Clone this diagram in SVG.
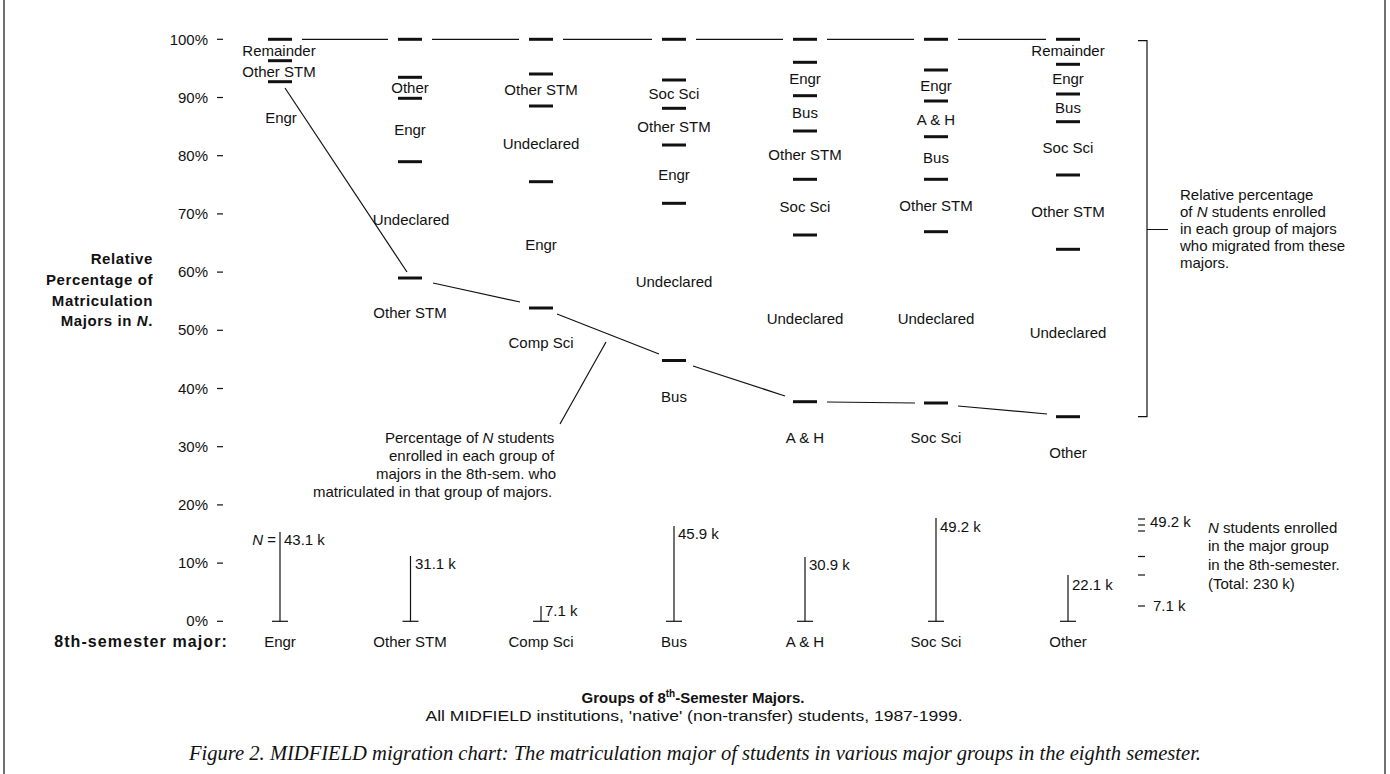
<svg xmlns="http://www.w3.org/2000/svg" width="1390" height="774" viewBox="0 0 1390 774">
<style>
text{font-family:"Liberation Sans",Arial,Helvetica,sans-serif;font-size:15px;fill:#111}
.lab{text-anchor:middle}
.tick{text-anchor:end}
.bar{stroke:#111;stroke-width:3}
.ln{stroke:#111;stroke-width:1.2;fill:none}
.bold{font-weight:bold}
.it{font-style:italic}
.note{font-size:14.5px}
.small{font-size:13px}
.cap{font-family:"Liberation Serif","Times New Roman",serif;font-style:italic;font-size:20px}
</style>
<rect x="0" y="0" width="1390" height="774" fill="#fff"/>
<g id="frame" class="ln" stroke-width="1.5">
<line x1="4" y1="0" x2="4" y2="774"/>
<line x1="1385" y1="0" x2="1385" y2="774"/>
</g>
<g id="y-axis">
<g class="ln"><line x1="217" y1="39.3" x2="223" y2="39.3"/><line x1="217" y1="97.5" x2="223" y2="97.5"/><line x1="217" y1="155.7" x2="223" y2="155.7"/><line x1="217" y1="213.9" x2="223" y2="213.9"/><line x1="217" y1="272.1" x2="223" y2="272.1"/><line x1="217" y1="330.3" x2="223" y2="330.3"/><line x1="217" y1="388.5" x2="223" y2="388.5"/><line x1="217" y1="446.7" x2="223" y2="446.7"/><line x1="217" y1="504.9" x2="223" y2="504.9"/><line x1="217" y1="563.1" x2="223" y2="563.1"/><line x1="217" y1="621.3" x2="223" y2="621.3"/></g>
<text class="tick" x="208" y="44.5">100%</text>
<text class="tick" x="208" y="102.5">90%</text>
<text class="tick" x="208" y="160.7">80%</text>
<text class="tick" x="208" y="218.9">70%</text>
<text class="tick" x="208" y="277.1">60%</text>
<text class="tick" x="208" y="335.3">50%</text>
<text class="tick" x="208" y="393.5">40%</text>
<text class="tick" x="208" y="451.7">30%</text>
<text class="tick" x="208" y="509.9">20%</text>
<text class="tick" x="208" y="568.1">10%</text>
<text class="tick" x="208" y="626.3">0%</text>
<g class="bold" style="font-size:16px;letter-spacing:0.6px">
<text class="tick" x="153" y="264">Relative</text>
<text class="tick" x="153" y="285">Percentage of</text>
<text class="tick" x="153" y="306">Matriculation</text>
<text class="tick" x="153" y="326">Majors in <tspan class="it">N</tspan>.</text>
</g>
<text class="tick bold" x="228" y="647" style="font-size:16px;letter-spacing:1.1px">8th-semester major:</text>
</g>
<g id="col-engr">
<line class="bar" x1="268" y1="39.3" x2="292" y2="39.3"/><line class="bar" x1="268" y1="60.7" x2="292" y2="60.7"/><line class="bar" x1="268" y1="81.7" x2="292" y2="81.7"/>
<text class="lab" x="279" y="55.5">Remainder</text>
<text class="lab" x="279" y="76.5">Other STM</text>
<text class="lab" x="281" y="123">Engr</text>
<line class="ln" x1="280" y1="532" x2="280" y2="621.3"/><line class="ln" x1="272" y1="621.3" x2="288" y2="621.3"/>
<text x="276" y="545" class="tick"><tspan class="it">N</tspan> =</text>
<text x="284" y="545">43.1 k</text>
<text class="lab" x="280" y="647">Engr</text>
</g>
<g id="col-otherstm">
<line class="bar" x1="398" y1="39.3" x2="422" y2="39.3"/><line class="bar" x1="398" y1="77.3" x2="422" y2="77.3"/><line class="bar" x1="398" y1="98.3" x2="422" y2="98.3"/><line class="bar" x1="398" y1="161.7" x2="422" y2="161.7"/><line class="bar" x1="398" y1="278" x2="422" y2="278"/>
<text class="lab" x="410" y="93">Other</text>
<text class="lab" x="410" y="135">Engr</text>
<text class="lab" x="411" y="225">Undeclared</text>
<text class="lab" x="410" y="318">Other STM</text>
<line class="ln" x1="410.5" y1="556" x2="410.5" y2="621.3"/><line class="ln" x1="402.5" y1="621.3" x2="418.5" y2="621.3"/>
<text x="415" y="569">31.1 k</text>
<text class="lab" x="410" y="647">Other STM</text>
</g>
<g id="col-compsci">
<line class="bar" x1="529" y1="39.3" x2="553" y2="39.3"/><line class="bar" x1="529" y1="74" x2="553" y2="74"/><line class="bar" x1="529" y1="106" x2="553" y2="106"/><line class="bar" x1="529" y1="181.7" x2="553" y2="181.7"/><line class="bar" x1="529" y1="308" x2="553" y2="308"/>
<text class="lab" x="541" y="95">Other STM</text>
<text class="lab" x="541" y="149">Undeclared</text>
<text class="lab" x="541" y="250">Engr</text>
<text class="lab" x="541" y="348">Comp Sci</text>
<line class="ln" x1="541" y1="606" x2="541" y2="621.3"/><line class="ln" x1="533" y1="621.3" x2="549" y2="621.3"/>
<text x="545" y="616">7.1 k</text>
<text class="lab" x="541" y="647">Comp Sci</text>
</g>
<g id="col-bus">
<line class="bar" x1="662" y1="39.3" x2="686" y2="39.3"/><line class="bar" x1="662" y1="80" x2="686" y2="80"/><line class="bar" x1="662" y1="108.3" x2="686" y2="108.3"/><line class="bar" x1="662" y1="145" x2="686" y2="145"/><line class="bar" x1="662" y1="203.3" x2="686" y2="203.3"/><line class="bar" x1="662" y1="360.5" x2="686" y2="360.5"/>
<text class="lab" x="674" y="99">Soc Sci</text>
<text class="lab" x="674" y="132">Other STM</text>
<text class="lab" x="674" y="180">Engr</text>
<text class="lab" x="674" y="287">Undeclared</text>
<text class="lab" x="674" y="402">Bus</text>
<line class="ln" x1="674" y1="526" x2="674" y2="621.3"/><line class="ln" x1="666" y1="621.3" x2="682" y2="621.3"/>
<text x="678" y="539">45.9 k</text>
<text class="lab" x="674" y="647">Bus</text>
</g>
<g id="col-ah">
<line class="bar" x1="793" y1="39.3" x2="817" y2="39.3"/><line class="bar" x1="793" y1="62.3" x2="817" y2="62.3"/><line class="bar" x1="793" y1="95.7" x2="817" y2="95.7"/><line class="bar" x1="793" y1="131" x2="817" y2="131"/><line class="bar" x1="793" y1="179.3" x2="817" y2="179.3"/><line class="bar" x1="793" y1="235" x2="817" y2="235"/><line class="bar" x1="793" y1="401.7" x2="817" y2="401.7"/>
<text class="lab" x="805" y="84">Engr</text>
<text class="lab" x="805" y="118">Bus</text>
<text class="lab" x="805" y="160">Other STM</text>
<text class="lab" x="805" y="212">Soc Sci</text>
<text class="lab" x="805" y="324">Undeclared</text>
<text class="lab" x="805" y="443">A &amp; H</text>
<line class="ln" x1="805" y1="557" x2="805" y2="621.3"/><line class="ln" x1="797" y1="621.3" x2="813" y2="621.3"/>
<text x="809" y="570">30.9 k</text>
<text class="lab" x="805" y="647">A &amp; H</text>
</g>
<g id="col-socsci">
<line class="bar" x1="924" y1="39.3" x2="948" y2="39.3"/><line class="bar" x1="924" y1="70" x2="948" y2="70"/><line class="bar" x1="924" y1="101" x2="948" y2="101"/><line class="bar" x1="924" y1="136.7" x2="948" y2="136.7"/><line class="bar" x1="924" y1="179.3" x2="948" y2="179.3"/><line class="bar" x1="924" y1="231.7" x2="948" y2="231.7"/><line class="bar" x1="924" y1="403" x2="948" y2="403"/>
<text class="lab" x="936" y="91">Engr</text>
<text class="lab" x="936" y="125">A &amp; H</text>
<text class="lab" x="936" y="163">Bus</text>
<text class="lab" x="936" y="211">Other STM</text>
<text class="lab" x="936" y="324">Undeclared</text>
<text class="lab" x="936" y="443">Soc Sci</text>
<line class="ln" x1="936" y1="518" x2="936" y2="621.3"/><line class="ln" x1="928" y1="621.3" x2="944" y2="621.3"/>
<text x="940" y="532">49.2 k</text>
<text class="lab" x="936" y="647">Soc Sci</text>
</g>
<g id="col-other">
<line class="bar" x1="1056" y1="39.3" x2="1080" y2="39.3"/><line class="bar" x1="1056" y1="64.3" x2="1080" y2="64.3"/><line class="bar" x1="1056" y1="94" x2="1080" y2="94"/><line class="bar" x1="1056" y1="121.7" x2="1080" y2="121.7"/><line class="bar" x1="1056" y1="175" x2="1080" y2="175"/><line class="bar" x1="1056" y1="249.3" x2="1080" y2="249.3"/><line class="bar" x1="1056" y1="416.7" x2="1080" y2="416.7"/>
<text class="lab" x="1068" y="56">Remainder</text>
<text class="lab" x="1068" y="84">Engr</text>
<text class="lab" x="1068" y="113">Bus</text>
<text class="lab" x="1068" y="153">Soc Sci</text>
<text class="lab" x="1068" y="217">Other STM</text>
<text class="lab" x="1068" y="338">Undeclared</text>
<text class="lab" x="1068" y="458">Other</text>
<line class="ln" x1="1068" y1="575" x2="1068" y2="621.3"/><line class="ln" x1="1060" y1="621.3" x2="1076" y2="621.3"/>
<text x="1072" y="590">22.1 k</text>
<text class="lab" x="1068" y="647">Other</text>
</g>
<g id="connectors" class="ln">
<line x1="302" y1="39.3" x2="388" y2="39.3"/>
<line x1="432" y1="39.3" x2="519" y2="39.3"/>
<line x1="563" y1="39.3" x2="652" y2="39.3"/>
<line x1="696" y1="39.3" x2="783" y2="39.3"/>
<line x1="827" y1="39.3" x2="914" y2="39.3"/>
<line x1="958" y1="39.3" x2="1046" y2="39.3"/>
<line x1="285" y1="88" x2="407" y2="272"/>
<line x1="433" y1="283" x2="520" y2="302"/>
<line x1="557" y1="314" x2="659" y2="354"/>
<line x1="693" y1="366" x2="785" y2="396"/>
<line x1="827" y1="402" x2="915" y2="403"/>
<line x1="958" y1="406" x2="1047" y2="414"/>
<line x1="606" y1="342" x2="560" y2="424"/>
<path d="M1138,40.7 H1147 V416.7 H1138 M1147,229.5 H1168"/>
</g>
<g id="pct-note" class="note">
<text x="385" y="443">Percentage of <tspan class="it">N</tspan> students</text>
<text x="389" y="461">enrolled in each group of</text>
<text x="376" y="479">majors in the 8th-sem. who</text>
<text x="313" y="497">matriculated in that group of majors.</text>
</g>
<g id="rel-note" class="note">
<text x="1180" y="200">Relative percentage</text>
<text x="1180" y="217">of <tspan class="it">N</tspan> students enrolled</text>
<text x="1180" y="234">in each group of majors</text>
<text x="1180" y="251">who migrated from these</text>
<text x="1180" y="268">majors.</text>
</g>
<g id="n-legend">
<g class="ln"><line x1="1138" y1="519" x2="1145" y2="519"/><line x1="1138" y1="525" x2="1145" y2="525"/><line x1="1138" y1="531" x2="1145" y2="531"/><line x1="1138" y1="556.5" x2="1145" y2="556.5"/><line x1="1138" y1="575" x2="1145" y2="575"/><line x1="1138" y1="606" x2="1145" y2="606"/></g>
<text x="1150" y="527">49.2 k</text>
<text x="1153" y="611">7.1 k</text>
<g class="small">
<text x="1208" y="533"><tspan class="it">N</tspan>  students enrolled</text>
<text x="1208" y="551">in the major group</text>
<text x="1208" y="570">in the 8th-semester.</text>
<text x="1208" y="589">(Total: 230 k)</text>
</g>
</g>
<g id="titles">
<text class="lab bold" x="693" y="703" style="font-size:15px">Groups of 8<tspan dy="-6" style="font-size:10px">th</tspan><tspan dy="6">-Semester Majors.</tspan></text>
<text class="lab" x="694" y="721" textLength="537" lengthAdjust="spacingAndGlyphs">All MIDFIELD institutions, 'native' (non-transfer) students, 1987-1999.</text>
<text class="cap" x="189" y="760" textLength="1012" lengthAdjust="spacingAndGlyphs">Figure 2. MIDFIELD migration chart: The matriculation major of students in various major groups in the eighth semester.</text>
</g>
</svg>
